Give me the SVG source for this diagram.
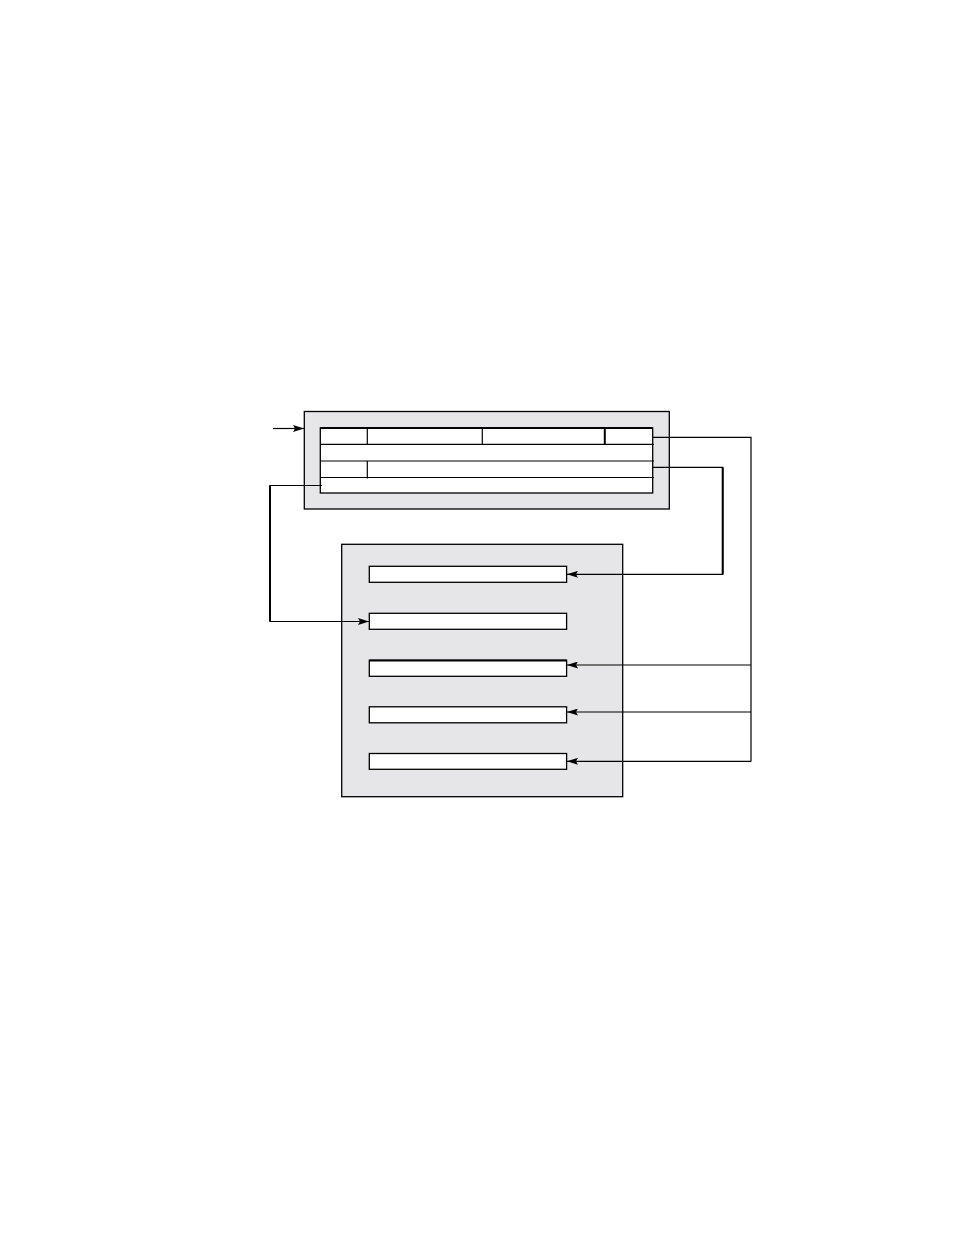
<svg xmlns="http://www.w3.org/2000/svg" width="954" height="1235" viewBox="0 0 954 1235">
<style>
.panel{fill:#e6e6e8;stroke:#000;stroke-width:1.3}
.cell{fill:#fff;stroke:#000;stroke-width:1.3}
.ln{fill:none;stroke:#000;stroke-width:1.2}
.thk{fill:none;stroke:#000;stroke-width:2}
</style>
<defs>
<marker id="ah" viewBox="0 0 11 7" refX="11" refY="3.5" markerWidth="11" markerHeight="7" markerUnits="userSpaceOnUse" orient="auto">
<path d="M0,0 L11,3.5 L0,7 L2,3.5 Z" fill="#000"/>
</marker>
</defs>
<rect width="954" height="1235" fill="#fff"/>
<g id="top-panel">
<rect class="panel" x="304.3" y="411.5" width="365" height="97.5"/>
<rect class="cell" x="320.3" y="428" width="332.4" height="65"/>
<line class="thk" x1="320.3" y1="428" x2="652.7" y2="428"/>
<line class="ln" x1="320.3" y1="444.3" x2="654" y2="444.3"/>
<line class="ln" x1="320.3" y1="461" x2="654" y2="461"/>
<line class="ln" x1="320.3" y1="477.5" x2="654" y2="477.5"/>
<line class="ln" x1="367.3" y1="428" x2="367.3" y2="445"/>
<line class="ln" x1="482.3" y1="428" x2="482.3" y2="445"/>
<line class="thk" x1="604.8" y1="428" x2="604.8" y2="445"/>
<line class="ln" x1="367.3" y1="461" x2="367.3" y2="478.5"/>
</g>
<g id="bottom-panel">
<rect class="panel" x="341.7" y="544.3" width="281" height="252.4"/>
<rect class="cell" x="369.3" y="566.3" width="197.3" height="16"/>
<rect class="cell" x="369.3" y="613.3" width="197.3" height="16"/>
<rect class="cell" x="369.3" y="660.3" width="197.3" height="16"/>
<line class="thk" x1="369.3" y1="660.6" x2="566.6" y2="660.6"/>
<rect class="cell" x="369.3" y="706.8" width="197.3" height="16"/>
<rect class="cell" x="369.3" y="753.5" width="197.3" height="15.8"/>
</g>
<g id="connectors">
<line class="ln" x1="273" y1="428.5" x2="304" y2="428.5" marker-end="url(#ah)"/>
<polyline class="ln" points="322,485.5 270,485.5 270,621.5 369,621.5" marker-end="url(#ah)"/>
<line class="thk" x1="270" y1="485.5" x2="270" y2="621.5"/>
<polyline class="ln" points="652.7,467.3 722.7,467.3 722.7,574.3 567,574.3" marker-end="url(#ah)"/>
<line class="thk" x1="722.7" y1="467.3" x2="722.7" y2="574.3"/>
<polyline class="ln" points="652.7,437.3 751,437.3 751,761.5"/>
<line class="ln" x1="751" y1="665" x2="567" y2="665" marker-end="url(#ah)"/>
<line class="ln" x1="751" y1="712" x2="567" y2="712" marker-end="url(#ah)"/>
<line class="ln" x1="751" y1="761.3" x2="567" y2="761.3" marker-end="url(#ah)"/>
</g>
</svg>
